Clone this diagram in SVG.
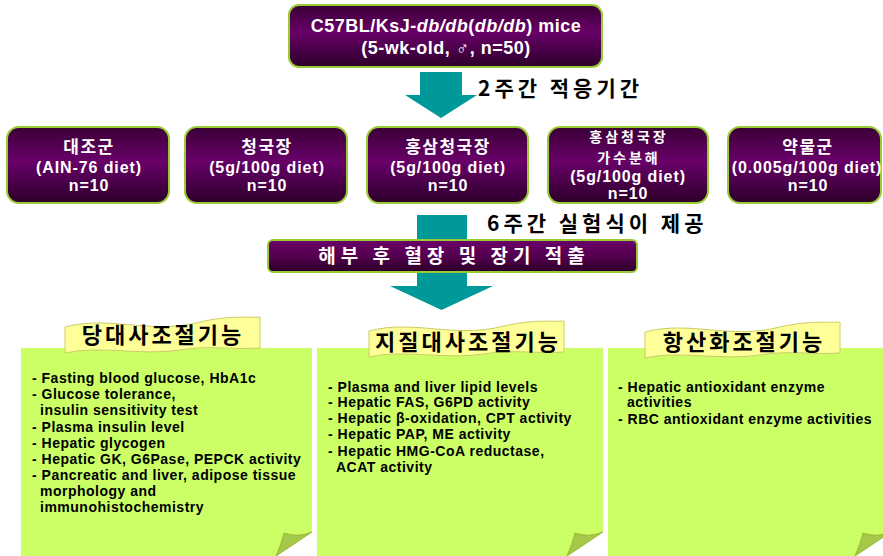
<svg xmlns="http://www.w3.org/2000/svg" width="883" height="556" viewBox="0 0 883 556">
<defs>
<linearGradient id="pg" x1="0" y1="0" x2="0" y2="1">
<stop offset="0" stop-color="#3a0036"/>
<stop offset="0.45" stop-color="#680068"/>
<stop offset="1" stop-color="#2c002a"/>
</linearGradient>
<linearGradient id="bg" x1="0" y1="0" x2="0" y2="1">
<stop offset="0" stop-color="#6a006a"/>
<stop offset="0.5" stop-color="#55004f"/>
<stop offset="1" stop-color="#2a0028"/>
</linearGradient>
<path id="banner" d="M0,10 C45,-2 85,18 135,5 C165,-2 185,1 195,0 L195,31 C165,33 145,28 115,33 C75,39 35,28 0,36 Z"/>
<path id="fold" d="M0,0 Q-14,6 -28,1 Q-31,13 -36,24 Z"/>
</defs>
<style>
.box{fill:url(#pg);stroke:#99cc33;stroke-width:2}
.bar{fill:url(#bg);stroke:#99cc33;stroke-width:2}
.bt{font-family:"Liberation Sans",Arial,sans-serif;font-weight:bold;font-size:16px;letter-spacing:0.9px;fill:#fff;text-anchor:middle}
.tt{font-size:18px;letter-spacing:0.5px}
.bk{font-family:"Noto Sans CJK KR",sans-serif;font-weight:bold;font-size:17px;letter-spacing:1.5px;fill:#fff;text-anchor:middle}
.bk4{font-size:14px;letter-spacing:3px}
.bart{font-size:19px;letter-spacing:5px}
.lab{font-family:"Noto Sans CJK KR",sans-serif;font-weight:bold;font-size:21px;fill:#000;letter-spacing:4px}
.arrow{fill:#009999}
.page{fill:#ccff66}
.foldc{fill:#a6c84a;stroke:#99bb33;stroke-width:1}
.ban{fill:#ffff99;stroke:#cccc66;stroke-width:1}
.bant{font-family:"Noto Sans CJK KR",sans-serif;font-weight:bold;font-size:22px;letter-spacing:3px;fill:#000;text-anchor:middle}
.pt{font-family:"Liberation Sans",Arial,sans-serif;font-weight:bold;font-size:14px;letter-spacing:0.5px;fill:#000}
</style>
<rect width="883" height="556" fill="#fff"/>

<g id="connectors">
<path class="arrow" d="M420,72 H462 V95 H477 L441,118 L405,95 H420 Z"/>
<path class="arrow" d="M417,215 H467 V286 H493 L441.5,310 L390,286 H417 Z"/>
<text class="lab" x="478" y="96">2주간 적응기간</text>
<text class="lab" x="487" y="231">6주간 실험식이 제공</text>
</g>

<g id="mice">
<rect class="box" x="289" y="5" width="313" height="62" rx="10"/>
<text class="bt tt" x="446" y="32">C57BL/KsJ-<tspan font-style="italic">db/db</tspan>(<tspan font-style="italic">db/db</tspan>) mice</text>
<text class="bt tt" x="446" y="54">(5-wk-old, ♂, n=50)</text>
</g>

<g id="g1">
<rect class="box" x="7" y="127" width="162" height="76" rx="12"/>
<text class="bk" x="89" y="153">대조군</text>
<text class="bt" x="89" y="173">(AIN-76 diet)</text>
<text class="bt" x="89" y="191">n=10</text>
</g>
<g id="g2">
<rect class="box" x="185" y="127" width="162" height="76" rx="12"/>
<text class="bk" x="267" y="153">청국장</text>
<text class="bt" x="267" y="173">(5g/100g diet)</text>
<text class="bt" x="267" y="191">n=10</text>
</g>
<g id="g3">
<rect class="box" x="367" y="127" width="161" height="76" rx="12"/>
<text class="bk" x="448" y="153">홍삼청국장</text>
<text class="bt" x="448" y="173">(5g/100g diet)</text>
<text class="bt" x="448" y="191">n=10</text>
</g>
<g id="g4">
<rect class="box" x="548" y="127" width="160" height="76" rx="12"/>
<text class="bk bk4" x="629" y="142">홍삼청국장</text>
<text class="bk bk4" x="629" y="163">가수분해</text>
<text class="bt" x="628" y="182">(5g/100g diet)</text>
<text class="bt" x="628" y="199">n=10</text>
</g>
<g id="g5">
<rect class="box" x="728" y="127" width="153" height="76" rx="12"/>
<text class="bk" x="808" y="153">약물군</text>
<text class="bt" x="807" y="173">(0.005g/100g diet)</text>
<text class="bt" x="808" y="191">n=10</text>
</g>

<g id="dissect">
<rect class="bar" x="268" y="240" width="369" height="32" rx="5"/>
<text class="bk bart" x="454" y="263">해부 후 혈장 및 장기 적출</text>
</g>

<g id="p1">
<path class="page" d="M21,348 H312 V532 L276,556 H21 Z"/>
<use href="#fold" class="foldc" transform="translate(312,532)"/>
<use href="#banner" class="ban" transform="translate(65,317)"/>
<text class="bant" x="163" y="343">당대사조절기능</text>
<text class="pt" x="32" y="383">- Fasting blood glucose, HbA1c</text>
<text class="pt" x="32" y="399">- Glucose tolerance,</text>
<text class="pt" x="40" y="415">insulin sensitivity test</text>
<text class="pt" x="32" y="432">- Plasma insulin level</text>
<text class="pt" x="32" y="448">- Hepatic glycogen</text>
<text class="pt" x="32" y="464">- Hepatic GK, G6Pase, PEPCK activity</text>
<text class="pt" x="32" y="480">- Pancreatic and liver, adipose tissue</text>
<text class="pt" x="40" y="496">morphology and</text>
<text class="pt" x="40" y="512">immunohistochemistry</text>
</g>

<g id="p2">
<path class="page" d="M317,348 H603 V532 L567,556 H317 Z"/>
<use href="#fold" class="foldc" transform="translate(603,532)"/>
<use href="#banner" class="ban" transform="translate(369,321)"/>
<text class="bant" x="468" y="350">지질대사조절기능</text>
<text class="pt" x="328" y="392">- Plasma and liver lipid levels</text>
<text class="pt" x="328" y="407">- Hepatic FAS, G6PD activity</text>
<text class="pt" x="328" y="423">- Hepatic β-oxidation, CPT activity</text>
<text class="pt" x="328" y="439">- Hepatic PAP, ME activity</text>
<text class="pt" x="328" y="456">- Hepatic HMG-CoA reductase,</text>
<text class="pt" x="336" y="472">ACAT activity</text>
</g>

<g id="p3">
<path class="page" d="M608,348 H891 V532 L855,556 H608 Z"/>
<use href="#fold" class="foldc" transform="translate(891,532)"/>
<use href="#banner" class="ban" transform="translate(645,322)"/>
<text class="bant" x="744" y="350">항산화조절기능</text>
<text class="pt" x="618" y="392">- Hepatic antioxidant enzyme</text>
<text class="pt" x="627" y="407">activities</text>
<text class="pt" x="618" y="424">- RBC antioxidant enzyme activities</text>
</g>
</svg>
